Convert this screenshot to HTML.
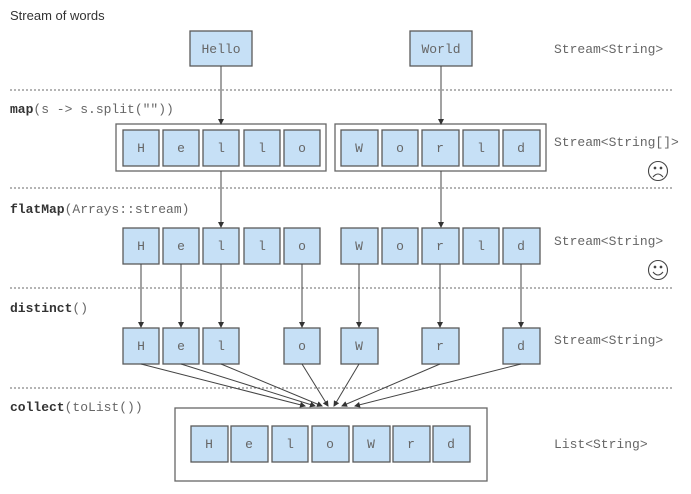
<!DOCTYPE html>
<html><head><meta charset="utf-8"><style>
html,body{margin:0;padding:0;background:#fff;}
svg{display:block}
.m{font-family:"Liberation Mono",monospace;font-size:13px;fill:#666}
.b{font-weight:bold;fill:#333}
.c{font-family:"Liberation Mono",monospace;font-size:13px;fill:#666;text-anchor:middle}
.cell{fill:#c6e0f6;stroke:#5a5a5a;stroke-width:1.3}
.cont{fill:#fff;stroke:#666;stroke-width:1.3}
.d{stroke:#888;stroke-width:1.3;stroke-dasharray:2,2}
.a{stroke:#444;stroke-width:1;fill:none}
</style></head><body>
<svg width="691" height="494" viewBox="0 0 691 494" xmlns="http://www.w3.org/2000/svg">
<defs><marker id="ar" markerWidth="6" markerHeight="6" refX="5" refY="3" orient="auto" markerUnits="userSpaceOnUse"><path d="M0,0 L6,3 L0,6 z" fill="#333"/></marker></defs>
<text x="10" y="20" font-family="Liberation Sans, sans-serif" font-size="13" fill="#333">Stream of words</text>
<line class="d" x1="10" y1="90" x2="672" y2="90"/>
<line class="d" x1="10" y1="188" x2="672" y2="188"/>
<line class="d" x1="10" y1="288" x2="672" y2="288"/>
<line class="d" x1="10" y1="388" x2="672" y2="388"/>

<rect class="cell" x="190" y="31" width="62" height="35"/><text class="c" x="221" y="53">Hello</text>
<rect class="cell" x="410" y="31" width="62" height="35"/><text class="c" x="441" y="53">World</text>

<text class="m" x="10" y="113"><tspan class="b">map</tspan>(s -&gt; s.split(""))</text>
<text class="m" x="10" y="213"><tspan class="b">flatMap</tspan>(Arrays::stream)</text>
<text class="m" x="10" y="312"><tspan class="b">distinct</tspan>()</text>
<text class="m" x="10" y="411"><tspan class="b">collect</tspan>(toList())</text>

<text class="m" x="554" y="53">Stream&lt;String&gt;</text>
<text class="m" x="554" y="146">Stream&lt;String[]&gt;</text>
<text class="m" x="554" y="245">Stream&lt;String&gt;</text>
<text class="m" x="554" y="344">Stream&lt;String&gt;</text>
<text class="m" x="554" y="448">List&lt;String&gt;</text>

<g stroke="#444" stroke-width="1.1" fill="none">
<circle cx="658" cy="171" r="9.5"/><circle cx="655" cy="168" r="0.8" fill="#444"/><circle cx="661" cy="168" r="0.8" fill="#444"/><path d="M653,177 Q658,171 663,177"/>
<circle cx="658" cy="270" r="9.5"/><circle cx="655" cy="267" r="0.8" fill="#444"/><circle cx="661" cy="267" r="0.8" fill="#444"/><path d="M653,272 Q658,278 663,272"/>
</g>

<rect class="cont" x="116" y="124" width="210" height="47"/>
<rect class="cont" x="335" y="124" width="211" height="47"/>
<g>
<rect class="cell" x="123" y="130" width="36" height="36"/><text class="c" x="141" y="152">H</text>
<rect class="cell" x="163" y="130" width="36" height="36"/><text class="c" x="181" y="152">e</text>
<rect class="cell" x="203" y="130" width="36" height="36"/><text class="c" x="221" y="152">l</text>
<rect class="cell" x="244" y="130" width="36" height="36"/><text class="c" x="262" y="152">l</text>
<rect class="cell" x="284" y="130" width="36" height="36"/><text class="c" x="302" y="152">o</text>
<rect class="cell" x="341" y="130" width="37" height="36"/><text class="c" x="359" y="152">W</text>
<rect class="cell" x="382" y="130" width="36" height="36"/><text class="c" x="400" y="152">o</text>
<rect class="cell" x="422" y="130" width="37" height="36"/><text class="c" x="440" y="152">r</text>
<rect class="cell" x="463" y="130" width="36" height="36"/><text class="c" x="481" y="152">l</text>
<rect class="cell" x="503" y="130" width="37" height="36"/><text class="c" x="521" y="152">d</text>
</g>
<g>
<rect class="cell" x="123" y="228" width="36" height="36"/><text class="c" x="141" y="250">H</text>
<rect class="cell" x="163" y="228" width="36" height="36"/><text class="c" x="181" y="250">e</text>
<rect class="cell" x="203" y="228" width="36" height="36"/><text class="c" x="221" y="250">l</text>
<rect class="cell" x="244" y="228" width="36" height="36"/><text class="c" x="262" y="250">l</text>
<rect class="cell" x="284" y="228" width="36" height="36"/><text class="c" x="302" y="250">o</text>
<rect class="cell" x="341" y="228" width="37" height="36"/><text class="c" x="359" y="250">W</text>
<rect class="cell" x="382" y="228" width="36" height="36"/><text class="c" x="400" y="250">o</text>
<rect class="cell" x="422" y="228" width="37" height="36"/><text class="c" x="440" y="250">r</text>
<rect class="cell" x="463" y="228" width="36" height="36"/><text class="c" x="481" y="250">l</text>
<rect class="cell" x="503" y="228" width="37" height="36"/><text class="c" x="521" y="250">d</text>
</g>
<g>
<rect class="cell" x="123" y="328" width="36" height="36"/><text class="c" x="141" y="350">H</text>
<rect class="cell" x="163" y="328" width="36" height="36"/><text class="c" x="181" y="350">e</text>
<rect class="cell" x="203" y="328" width="36" height="36"/><text class="c" x="221" y="350">l</text>
<rect class="cell" x="284" y="328" width="36" height="36"/><text class="c" x="302" y="350">o</text>
<rect class="cell" x="341" y="328" width="37" height="36"/><text class="c" x="359" y="350">W</text>
<rect class="cell" x="422" y="328" width="37" height="36"/><text class="c" x="440" y="350">r</text>
<rect class="cell" x="503" y="328" width="37" height="36"/><text class="c" x="521" y="350">d</text>
</g>
<rect class="cont" x="175" y="408" width="312" height="73"/>
<g>
<rect class="cell" x="191" y="426" width="37" height="36"/><text class="c" x="209" y="448">H</text>
<rect class="cell" x="231" y="426" width="37" height="36"/><text class="c" x="249" y="448">e</text>
<rect class="cell" x="272" y="426" width="36" height="36"/><text class="c" x="290" y="448">l</text>
<rect class="cell" x="312" y="426" width="37" height="36"/><text class="c" x="330" y="448">o</text>
<rect class="cell" x="353" y="426" width="37" height="36"/><text class="c" x="371" y="448">W</text>
<rect class="cell" x="393" y="426" width="37" height="36"/><text class="c" x="411" y="448">r</text>
<rect class="cell" x="433" y="426" width="37" height="36"/><text class="c" x="451" y="448">d</text>
</g>
<g class="a" marker-end="url(#ar)">
<line x1="221" y1="66" x2="221" y2="124"/>
<line x1="441" y1="66" x2="441" y2="124"/>
<line x1="221" y1="171" x2="221" y2="227"/>
<line x1="441" y1="171" x2="441" y2="227"/>
<line x1="141" y1="264" x2="141" y2="327"/>
<line x1="181" y1="264" x2="181" y2="327"/>
<line x1="221" y1="264" x2="221" y2="327"/>
<line x1="302" y1="264" x2="302" y2="327"/>
<line x1="359" y1="264" x2="359" y2="327"/>
<line x1="440" y1="264" x2="440" y2="327"/>
<line x1="521" y1="264" x2="521" y2="327"/>
<line x1="141" y1="364" x2="305" y2="406"/>
<line x1="181" y1="364" x2="315" y2="406"/>
<line x1="221" y1="364" x2="322" y2="406"/>
<line x1="302" y1="364" x2="328" y2="406"/>
<line x1="359" y1="364" x2="334" y2="406"/>
<line x1="440" y1="364" x2="342" y2="406"/>
<line x1="521" y1="364" x2="355" y2="406"/>
</g>
</svg>
</body></html>
